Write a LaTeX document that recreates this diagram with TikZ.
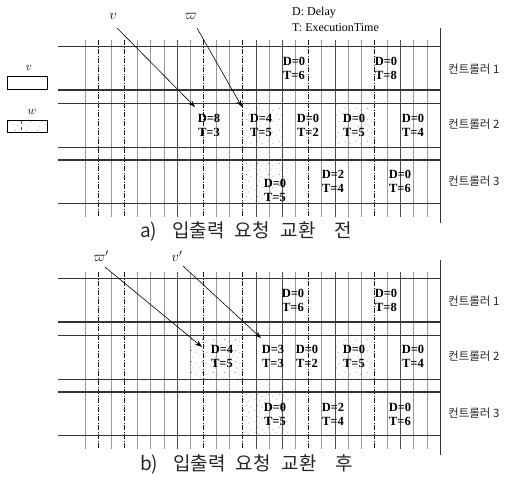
\documentclass[tikz,border=0pt]{standalone}
\usepackage{fontspec}
\setmainfont{Liberation Serif}
\newfontfamily\kr{Noto Sans CJK KR}
\usetikzlibrary{patterns,arrows.meta}
\pgfdeclarepatternformonly{sparsedots}{\pgfqpoint{0pt}{0pt}}{\pgfqpoint{11pt}{11pt}}{\pgfqpoint{11pt}{11pt}}{%
  \pgfpathcircle{\pgfqpoint{2pt}{3pt}}{0.45pt}%
  \pgfpathcircle{\pgfqpoint{7pt}{1pt}}{0.45pt}%
  \pgfpathcircle{\pgfqpoint{5pt}{8pt}}{0.45pt}%
  \pgfpathcircle{\pgfqpoint{9.5pt}{6pt}}{0.45pt}%
  \pgfusepath{fill}}
\tikzset{
  gline/.style={draw=black!40, line width=0.7pt},
  dline/.style={draw=black!90, line width=0.7pt, dash pattern=on 5pt off 1.5pt on 1pt off 1.5pt},
  kline/.style={draw=black!70, line width=0.7pt},
  hline/.style={draw=black!80, line width=0.8pt},
  task/.style={font=\bfseries\fontsize{12.5}{14}\selectfont, align=center, inner sep=0pt},
  ctrl/.style={font=\kr\fontsize{11.5}{12}\selectfont, anchor=west, inner sep=0pt, text=black!85},
  captext/.style={font=\kr\fontsize{19}{20}\selectfont, anchor=west, inner sep=0pt, text=black!85},
  lbl/.style={font=\fontsize{14}{14}\selectfont, inner sep=1pt},
  ptr/.style={-{Stealth[length=7pt,width=5pt]}, line width=0.6pt},
  wdots/.style={pattern=sparsedots, pattern color=black!55},
}
\newcommand\gridpanel[1]{%
  \foreach \i in {0,2,4,5,6,8,10,11,14,16,18,20,21,23,25,26}
    \draw[gline] ({85+13.15*\i},{40+#1}) -- ({85+13.15*\i},{217+#1});
  \foreach \i in {1,3,9,12,17,22}
    \draw[dline] ({85+13.15*\i},{40+#1}) -- ({85+13.15*\i},{217+#1});
  \foreach \i in {7,13,15,19,24}
    \draw[kline] ({85+13.15*\i},{40+#1}) -- ({85+13.15*\i},{217+#1});
  \foreach \yy in {46,103,147,203}
    \draw[hline] (58,{\yy+#1}) -- (440,{\yy+#1});
  \foreach \yy in {90,160}
    \draw[hline, line width=1.1pt] (58,{\yy+#1}) -- (440,{\yy+#1});
  \draw[hline] (440,{28+#1}) -- (440,{223+#1});
  \node[ctrl] (c1#1) at (448,{69+#1}) {컨트롤러 1};
  \node[ctrl] (c2#1) at (448,{124+#1}) {컨트롤러 2};
  \node[ctrl] (c3#1) at (448,{181+#1}) {컨트롤러 3};
}
\begin{document}
\begin{tikzpicture}[x=1pt,y=-1pt]
\useasboundingbox (0,0) rectangle (511,479);
% ---------- legend ----------
\node[lbl, font=\fontsize{13}{13}\selectfont] (legv) at (29,68) {$v$};
\node[draw, line width=0.7pt, minimum width=40pt, minimum height=13pt, inner sep=0pt] (boxv) at (27,82.5) {};
\node[lbl, font=\fontsize{12}{12}\selectfont] (legw) at (32,112) {$w$};
\node[draw, line width=0.7pt, wdots, minimum width=40pt, minimum height=12pt, inner sep=0pt] (boxw) at (27,126) {};
\draw[black!70, dashed, line width=0.5pt] (21,121) -- (21,131);
% ---------- key ----------
\node[anchor=west, inner sep=0pt, font=\fontsize{12}{12}\selectfont] (kd) at (292,13) {D: Delay};
\node[anchor=west, inner sep=0pt, font=\fontsize{12}{12}\selectfont] (kt) at (292,28) {T: ExecutionTime};
% ---------- panel a ----------
\fill[wdots] (243,103) rectangle (283,147);
\fill[wdots] (335,103) rectangle (374,147);
\fill[wdots] (243,160) rectangle (290,203);
\gridpanel{0}
\node[task] (a11) at (294,68.5) {D=0\\T=6};
\node[task] (a12) at (386,68.5) {D=0\\T=8};
\node[task] (a21) at (209,125) {D=8\\T=3};
\node[task] (a22) at (261,125) {D=4\\T=5};
\node[task] (a23) at (308,125) {D=0\\T=2};
\node[task] (a24) at (354,125) {D=0\\T=5};
\node[task] (a25) at (413,125) {D=0\\T=4};
\node[task] (a31) at (275,190) {D=0\\T=5};
\node[task] (a32) at (333,181.5) {D=2\\T=4};
\node[task] (a33) at (400,181.5) {D=0\\T=6};
\node[lbl] (lva) at (113,16) {$v$};
\node[lbl] (lwa) at (191,16) {$\varpi$};
\coordinate (vas) at (117,28);
\coordinate (vae) at (195,107);
\coordinate (was) at (197,28);
\coordinate (wae) at (242,107);
\draw[ptr] (vas) -- (vae);
\draw[ptr] (was) -- (wae);
\node[captext] (capa) at (140,231) {a)\hspace{15pt}입출력\hspace{10pt}요청\hspace{11pt}교환\hspace{19pt}전};
% ---------- panel b ----------
\fill[wdots] (190,336) rectangle (243,379);
\fill[wdots] (335,336) rectangle (374,379);
\fill[wdots] (243,392) rectangle (290,436);
\gridpanel{232}
\node[task] (b11) at (293,300) {D=0\\T=6};
\node[task] (b12) at (386,300) {D=0\\T=8};
\node[task] (b21) at (222,356.5) {D=4\\T=5};
\node[task] (b22) at (273,356.5) {D=3\\T=3};
\node[task] (b23) at (307,356.5) {D=0\\T=2};
\node[task] (b24) at (354,356.5) {D=0\\T=5};
\node[task] (b25) at (413,356.5) {D=0\\T=4};
\node[task] (b31) at (275,414.5) {D=0\\T=5};
\node[task] (b32) at (333,414.5) {D=2\\T=4};
\node[task] (b33) at (400,414.5) {D=0\\T=6};
\node[lbl] (lwb) at (101,256) {$\varpi'$};
\node[lbl] (lvb) at (177,256) {$v'$};
\coordinate (wbs) at (105,267);
\coordinate (wbe) at (202,347);
\coordinate (vbs) at (183,266);
\coordinate (vbe) at (261,338);
\draw[ptr] (wbs) -- (wbe);
\draw[ptr] (vbs) -- (vbe);
\node[captext] (capb) at (140,464) {b)\hspace{15pt}입출력\hspace{10pt}요청\hspace{11pt}교환\hspace{19pt}후};
\end{tikzpicture}
\end{document}
